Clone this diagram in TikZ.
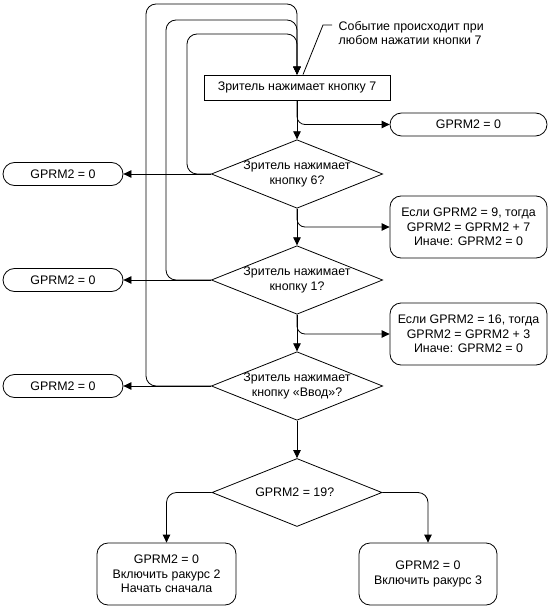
\documentclass[tikz,border=0pt]{standalone}
\usepackage{fontspec}
\setmainfont{Liberation Sans}
\usetikzlibrary{shapes.geometric,arrows.meta}
\begin{document}
\begin{tikzpicture}[x=1pt,y=-1pt,line width=.8pt,>={Triangle[length=8pt,width=7.5pt]},font=\fontsize{12.4}{14.5}\selectfont]

\useasboundingbox (0,0) rectangle (550,609);

% width of the boxes on the right
\def\wr{157pt}
% node style definition
\tikzstyle{block} = [
	draw, rectangle,
	minimum height=25pt, minimum width=186pt ];
\tikzstyle{pill} = [draw, rectangle, rounded corners=11.5pt, minimum height=23pt];
\tikzstyle{rbox} = [
	draw, rectangle, rounded corners=11pt, align=center,
	minimum height=62pt ];
\tikzstyle{cond} = [
	draw, diamond, aspect=2.5, inner sep=0pt, align=center,
	minimum width=170pt, minimum height=68pt ];
\tikzstyle{loop} = [->, rounded corners=10pt];
\tikzstyle{branch} = [->, rounded corners=8pt];

\node[block] (k7) at (297,87.5) { Зритель нажимает кнопку 7 };
\node[anchor=west, align=left] (note) at (335,33) { Событие происходит при\\любом нажатии кнопки 7 };

\node[cond] (d1) at (297,174) { Зритель нажимает\\кнопку 6? };
\node[cond] (d2) at (297,280) { Зритель нажимает\\кнопку 1? };
\node[cond] (d3) at (297,386) { Зритель нажимает\\кнопку «Ввод»? };
\node[cond] (d4) at (297,492.5) { GPRM2 = 19? };

\node[pill, minimum width=\wr] (r1) at (468.5,124.5) { GPRM2 = 0 };
\node[rbox, minimum width=\wr] (r2) at (468.5,227) { Если GPRM2 = 9, тогда\\GPRM2 = GPRM2 + 7\\Иначе: GPRM2 = 0 };
\node[rbox, minimum width=\wr] (r3) at (468.5,334) { Если GPRM2 = 16, тогда\\GPRM2 = GPRM2 + 3\\Иначе: GPRM2 = 0 };

\node[pill, minimum width=120pt] (l1) at (63,174) { GPRM2 = 0 };
\node[pill, minimum width=120pt] (l2) at (63,280) { GPRM2 = 0 };
\node[pill, minimum width=120pt] (l3) at (63,386) { GPRM2 = 0 };

\node[rbox, minimum width=139pt] (b1) at (166.5,574) { GPRM2 = 0\\Включить ракурс 2\\Начать сначала };
\node[rbox, minimum width=138pt] (b2) at (428,574) { GPRM2 = 0\\Включить ракурс 3 };

% loop tops
\coordinate (t1) at (187,34);
\coordinate (t2) at (166,20);
\coordinate (t3) at (146,4);
% callout
\coordinate (n1) at (323,25);
\coordinate (n2) at (332,25);

\draw ([xshift=6pt]k7.north) -- (n1) -- (n2);

\draw[->] (k7.south) -- (d1.north);
\draw[->] (d1.south) -- (d2.north);
\draw[->] (d2.south) -- (d3.north);
\draw[->] (d3.south) -- (d4.north);

\draw[branch] (k7.south) |- (r1.west);
\draw[branch] (d1.south) |- (r2.west);
\draw[branch] (d2.south) |- (r3.west);

\draw[->] (d1.west) -- (l1.east);
\draw[->] (d2.west) -- (l2.east);
\draw[->] (d3.west) -- (l3.east);

\draw[loop] (d1.west) -| (t1) -| (k7.north);
\draw[loop] (d2.west) -| (t2) -| (k7.north);
\draw[loop] (d3.west) -| (t3) -| (k7.north);

\draw[loop] (d4.west) -| (b1.north);
\draw[loop] (d4.east) -| (b2.north);

\end{tikzpicture}
\end{document}
